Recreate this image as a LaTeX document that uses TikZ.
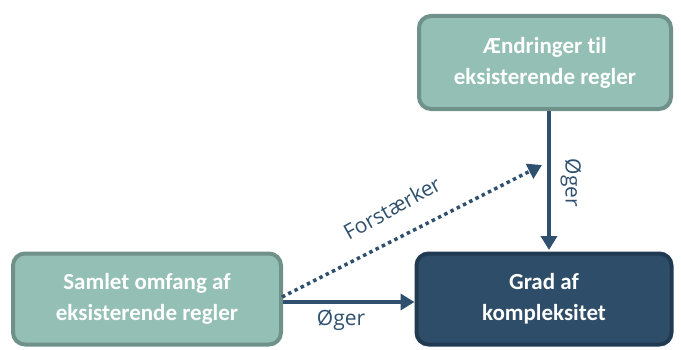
\documentclass[tikz,border=0pt]{standalone}
\usepackage{fontspec}
\setmainfont{Carlito}[Ligatures=NoCommon]
\newfontfamily\labelfont{Open Sans}
\usetikzlibrary{arrows.meta}
\definecolor{lightfill}{HTML}{93BFB4}
\definecolor{lightedge}{HTML}{6F918A}
\definecolor{darkfill}{HTML}{2E4D68}
\definecolor{darkedge}{HTML}{1F3A51}
\definecolor{arrowcol}{HTML}{2F506E}
\tikzset{
  lightbox/.style={draw=lightedge, fill=lightfill, line width=4pt, rounded corners=12pt,
    text=white, font=\bfseries\fontsize{23}{31}\selectfont, align=center, inner sep=0pt},
  darkbox/.style={lightbox, draw=darkedge, fill=darkfill},
  conn/.style={draw=arrowcol, line width=4pt, -{Triangle[length=14pt,width=16pt]}},
  dotconn/.style={conn, line width=3.5pt, dash pattern=on 3.5pt off 3.5pt},
  lbl/.style={text=arrowcol, font=\labelfont\fontsize{21}{24}\selectfont, inner sep=0pt}
}
\begin{document}
\begin{tikzpicture}[x=1pt,y=1pt]
\useasboundingbox (0,0) rectangle (681,349);
\node[lightbox, minimum width=252pt, minimum height=93pt] (top) at (545,286.5) {Ændringer til\\eksisterende regler};
\node[lightbox, minimum width=268pt, minimum height=91pt] (left) at (147,50) {Samlet omfang af\\eksisterende regler};
\node[darkbox, minimum width=255pt, minimum height=91pt] (right) at (544,50) {Grad af\\kompleksitet};
\coordinate (dotend) at (542,184);
\draw[conn] (top.south -| 549,0) -- (549,99) coordinate (vend);
\draw[conn] (left.east |- 0,47) -- (right.west |- 0,47);
\draw[dotconn] (282,52) -- (dotend);
\node[lbl, rotate=-90] (lv) at (571,166) {Øger};
\node[lbl] (lh) at (341,29) {Øger};
\node[lbl, rotate=29] (lf) at (392,141) {Forstærker};
\end{tikzpicture}
\end{document}
